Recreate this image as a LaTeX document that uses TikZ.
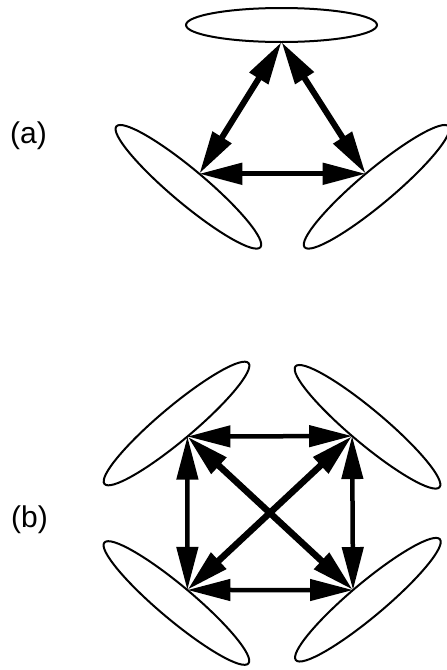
\documentclass[tikz,border=0pt]{standalone}
\usepackage{fontspec}
\setmainfont{Liberation Sans}
\usetikzlibrary{shapes.geometric,arrows.meta}
\begin{document}
\begin{tikzpicture}[x=1pt,y=-1pt,
  lobe/.style={draw, line width=2pt, ellipse, minimum width=188pt, minimum height=34pt, inner sep=0pt, outer sep=0pt},
  tipA/.tip={Triangle[length=43pt,width=21pt]},
  link/.style={line width=#1, tipA-tipA},
  link/.default=5pt,
  lbl/.style={inner sep=0pt, font=\fontsize{30}{36}\selectfont}
]
\useasboundingbox (0,0) rectangle (447,670);
% (a)
\node[lobe, minimum width=191pt] (T) at (281.5,25) {};
\node[lobe, rotate=-40] (La) at (188.4,186.8) {};
\node[lobe, rotate=40] (Ra) at (376.6,186.8) {};
\draw[link=6pt] (T.south) -- (La.north);
\draw[link=6pt] (T.south) -- (Ra.north);
\draw[link=5pt] (La.north) -- (Ra.north);
\node[lbl] (la) at (28.5,136) {(a)};
% (b)
\node[lobe, rotate=40] (TL) at (176.5,423.5) {};
\node[lobe, rotate=-40] (TR) at (367.5,426.8) {};
\node[lobe, rotate=-40] (BL) at (176.4,603) {};
\node[lobe, rotate=40] (BR) at (367.9,599.7) {};
\draw[link=4.5pt] (TL.south) -- (TR.251);
\draw[link=4.5pt] (BL.north) -- (BR.107);
\draw[link=4.5pt] (TL.south) -- (BL.north);
\draw[link=4.5pt] (TR.251) -- (BR.107);
\draw[link=6.5pt] (TL.south) -- (BR.107);
\draw[link=6.5pt] (TR.251) -- (BL.north);
\node[lbl] (lb) at (29.5,520) {(b)};
\end{tikzpicture}
\end{document}
